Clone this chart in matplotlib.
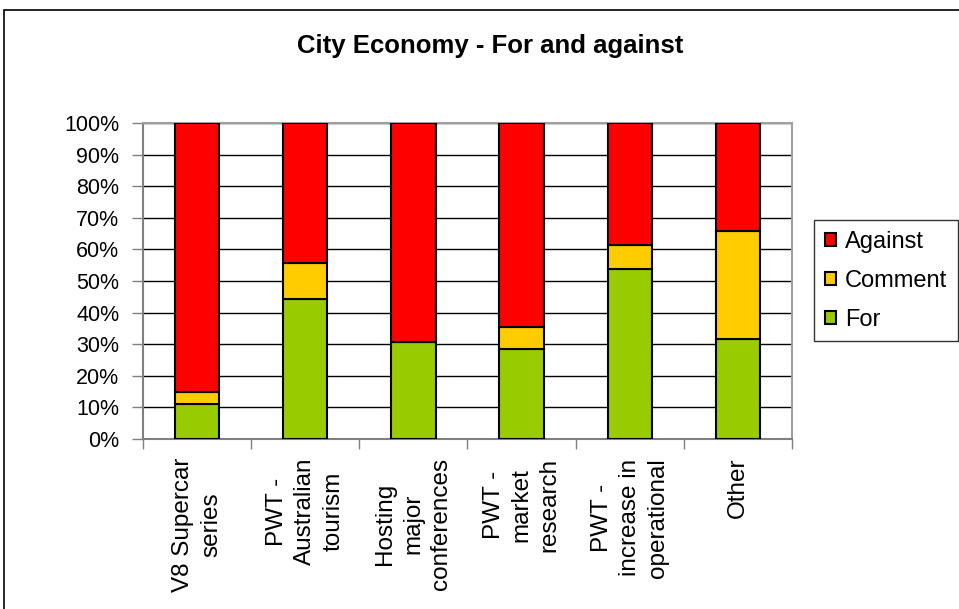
from matplotlib import pyplot as plt
from matplotlib.patches import Rectangle
import numpy as np

plt.rcParams['font.family'] = ['Liberation Sans', 'DejaVu Sans']

categories = [
    'V8 Supercar\nseries',
    'PWT -\nAustralian\ntourism',
    'Hosting\nmajor\nconferences',
    'PWT -\nmarket\nresearch',
    'PWT -\nincrease in\noperational',
    'Other',
]
for_pct = np.array([11.0, 44.2, 30.8, 28.4, 53.7, 31.6])
comment_pct = np.array([4.0, 11.4, 0.0, 6.9, 7.7, 34.2])
against_pct = 100 - for_pct - comment_pct

green = '#99cc00'
yellow = '#ffcc00'
red = '#ff0000'

fig = plt.figure(figsize=(9.59, 6.09), dpi=100)
W, H = 959, 609
ax = fig.add_axes([143 / W, 1 - 439 / H, (792 - 143) / W, (439 - 123) / H])

x = np.arange(len(categories))
w = 0.41
kw = dict(width=w, edgecolor='black', linewidth=1.5, zorder=3)
ax.bar(x, for_pct, color=green, label='For', **kw)
ax.bar(x, comment_pct, bottom=for_pct, color=yellow, label='Comment', **kw)
ax.bar(x, against_pct, bottom=for_pct + comment_pct, color=red, label='Against', **kw)

ax.set_xlim(-0.5, len(categories) - 0.5)
ax.set_ylim(0, 100)
ax.set_yticks(np.arange(0, 101, 10))
ax.set_yticklabels([f'{v}%' for v in range(0, 101, 10)], fontsize=15.5)
ax.yaxis.grid(True, color='black', linewidth=1)
ax.set_axisbelow(True)

# category separators as tick marks
ax.set_xticks(np.arange(-0.5, len(categories), 1))
ax.set_xticklabels([])
ax.tick_params(axis='x', length=7, color='#808080', width=1)
ax.tick_params(axis='y', length=8, color='#808080', width=1, pad=9)
for i, lab in enumerate(categories):
    ax.text(i, -6, lab, rotation=90, ha='center', va='top',
            multialignment='center', fontsize=17.5, linespacing=1.35)

for s in ax.spines.values():
    s.set_color('#a0a0a0')
    s.set_linewidth(1.5)
ax.spines['bottom'].set_color('#808080')
ax.spines['left'].set_color('#808080')

handles, labels = ax.get_legend_handles_labels()
leg = fig.legend(handles[::-1], labels[::-1], loc='upper left',
                 bbox_to_anchor=(814 / W, 1 - 220 / H), fontsize=17,
                 frameon=True, fancybox=False, edgecolor='black',
                 handlelength=0.5, handleheight=0.5, handletextpad=0.35,
                 labelspacing=0.72, borderpad=0.45, borderaxespad=0)
leg.get_frame().set_linewidth(1)

fig.text(490 / W, 1 - 46 / H, 'City Economy - For and against',
         ha='center', va='center', fontsize=18.5, fontweight='bold')

fig.patches.append(Rectangle((4 / W, -0.1), 1.1, 1 - 10 / H + 0.1,
                             transform=fig.transFigure, fill=False,
                             edgecolor='black', linewidth=1.2))

fig.savefig('out.png', dpi=100)
